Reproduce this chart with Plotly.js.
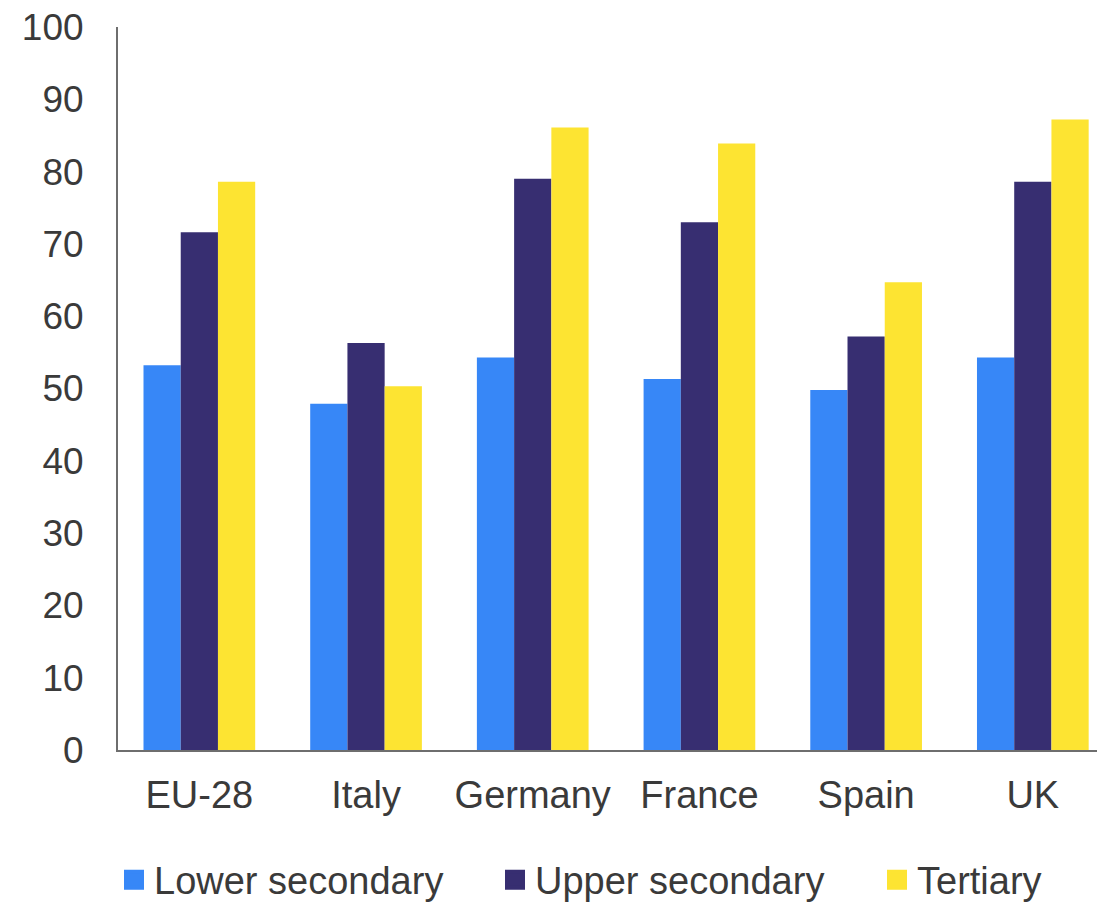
<!DOCTYPE html>
<html>
<head>
<meta charset="utf-8">
<script src="https://cdn.plot.ly/plotly-3.0.1.min.js"></script>
<style>html,body{margin:0;padding:0;background:#fff;}#chart{width:1097px;height:905px;}</style>
</head>
<body>
<div id="chart"></div>
<script>
const countries = ["EU-28", "Italy", "Germany", "France", "Spain", "UK"];
const lowerSecondary = [53.2, 47.9, 54.3, 51.3, 49.8, 54.3];
const upperSecondary = [71.6, 56.3, 79.0, 73.0, 57.2, 78.6];
const tertiary = [78.6, 50.3, 86.1, 83.9, 64.7, 87.2];
const seriesNames = ["Lower secondary", "Upper secondary", "Tertiary"];
const seriesColors = ["#3787f7", "#372e71", "#fde432"];
const yTicks = [0, 10, 20, 30, 40, 50, 60, 70, 80, 90, 100];

const legendIds = ["legend", "legend2", "legend3"];
const values = [lowerSecondary, upperSecondary, tertiary];
const traces = values.map((v, i) => ({
  type: "bar",
  name: seriesNames[i],
  x: countries,
  y: v,
  marker: {color: seriesColors[i], line: {width: 0}},
  showlegend: false,
  hoverinfo: "x+y+name"
}));
// legend keys (square swatches), one legend per entry for exact placement
seriesNames.forEach((n, i) => traces.push({
  type: "scatter",
  mode: "markers",
  name: n,
  x: [null],
  y: [null],
  marker: {symbol: "square", size: 16, color: seriesColors[i], line: {color: seriesColors[i], width: 4}},
  legend: legendIds[i],
  showlegend: true,
  hoverinfo: "skip"
}));

const font = {family: "Liberation Sans, Arial, sans-serif", size: 38, color: "#3a3a3a"};
const yfont = {family: "Liberation Sans, Arial, sans-serif", size: 37, color: "#3a3a3a"};

function legendAt(px) {
  return {
    orientation: "h",
    xref: "container",
    yref: "container",
    x: px / 1097,
    xanchor: "left",
    y: 0.0625,
    yanchor: "top",
    font: font,
    itemsizing: "trace",
    itemclick: false,
    bgcolor: "rgba(0,0,0,0)"
  };
}

const layout = {
  width: 1097,
  height: 905,
  margin: {l: 118, r: 0, t: 27, b: 155},
  paper_bgcolor: "#ffffff",
  plot_bgcolor: "#ffffff",
  font: font,
  barmode: "group",
  bargap: 0.33,
  bargroupgap: 0,
  showlegend: true,
  legend: legendAt(114),
  legend2: legendAt(495),
  legend3: legendAt(877),
  xaxis: {
    type: "category",
    range: [-0.488, 5.385],
    automargin: false,
    showline: true,
    linecolor: "#6e6e6e",
    linewidth: 2,
    showgrid: false,
    zeroline: false,
    ticks: "outside",
    ticklen: 10,
    tickcolor: "rgba(0,0,0,0)",
    tickfont: font
  },
  yaxis: {
    range: [0, 100],
    automargin: false,
    tickvals: yTicks,
    ticktext: yTicks.map(String),
    showline: true,
    linecolor: "#6e6e6e",
    linewidth: 2,
    showgrid: false,
    zeroline: false,
    ticks: "outside",
    ticklen: 25,
    tickcolor: "rgba(0,0,0,0)",
    tickfont: yfont
  }
};

Plotly.newPlot("chart", traces, layout, {displayModeBar: false, staticPlot: true});
</script>
</body>
</html>
